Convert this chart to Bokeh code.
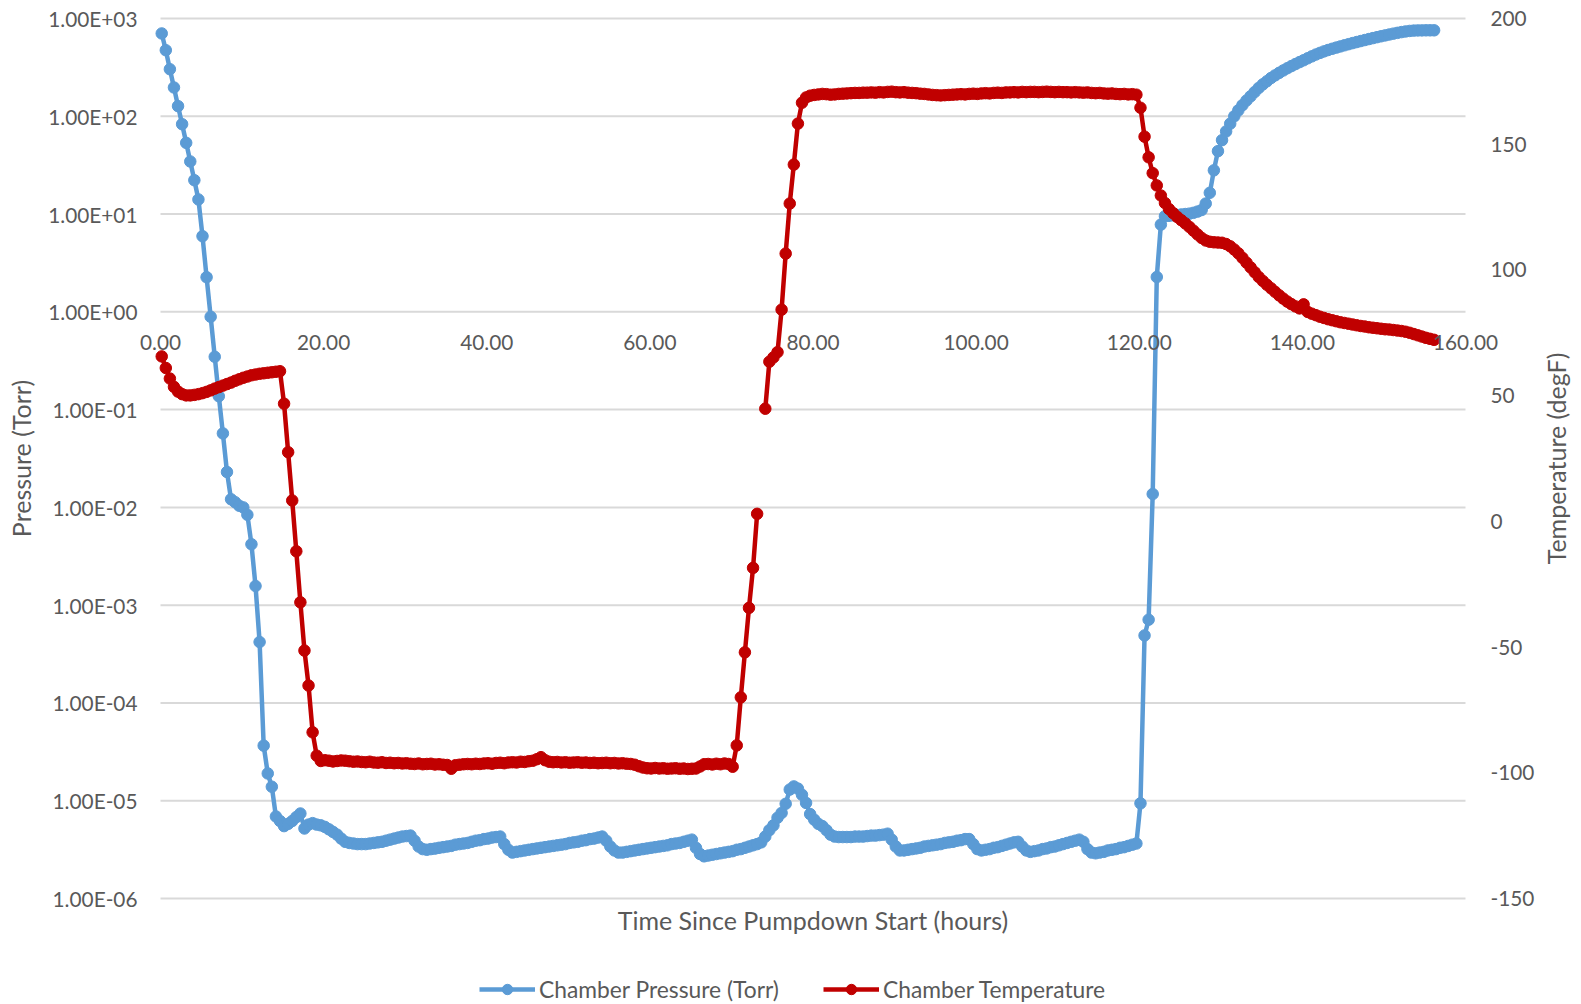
import numpy as np
from bokeh.plotting import figure
from bokeh.models import (ColumnDataSource, Range1d, LinearAxis, LogAxis, LinearScale,
                          FixedTicker, CustomJSTickFormatter, NumeralTickFormatter,
                          Legend, LegendItem, Label)
from bokeh.embed import file_html
from bokeh.resources import INLINE

# Logger clock: one sample every half hour
SAMPLE_START_H = 0.15
SAMPLE_STEP_H = 0.5

PRESSURE_TORR = [
    703, 474, 303, 197, 127, 83, 53.5, 34.5, 22.2, 14.1,
    5.94, 2.26, 0.89, 0.347, 0.137, 0.0571, 0.023, 0.0121, 0.0113, 0.0104,
    0.0100, 0.0084, 0.0042, 0.00157, 0.00042, 3.66e-5, 1.9e-5, 1.39e-5, 6.9e-6, 6.2e-6,
    5.5e-6, 5.8e-6, 6.2e-6, 6.8e-6, 7.4e-6, 5.2e-6, 5.7e-6, 5.9e-6, 5.7e-6, 5.6e-6,
    5.4e-6, 5.1e-6, 4.8e-6, 4.5e-6, 4.1e-6, 3.8e-6, 3.7e-6, 3.65e-6, 3.6e-6, 3.6e-6,
    3.6e-6, 3.65e-6, 3.7e-6, 3.75e-6, 3.8e-6, 3.9e-6, 4.0e-6, 4.1e-6, 4.2e-6, 4.3e-6,
    4.35e-6, 4.4e-6, 3.9e-6, 3.4e-6, 3.2e-6, 3.15e-6, 3.2e-6, 3.24e-6, 3.3e-6, 3.35e-6,
    3.4e-6, 3.45e-6, 3.55e-6, 3.6e-6, 3.65e-6, 3.7e-6, 3.8e-6, 3.9e-6, 3.95e-6, 4.05e-6,
    4.1e-6, 4.2e-6, 4.25e-6, 4.3e-6, 3.6e-6, 3.15e-6, 2.95e-6, 3.0e-6, 3.05e-6, 3.1e-6,
    3.15e-6, 3.2e-6, 3.25e-6, 3.3e-6, 3.35e-6, 3.4e-6, 3.45e-6, 3.5e-6, 3.55e-6, 3.6e-6,
    3.7e-6, 3.75e-6, 3.8e-6, 3.9e-6, 3.95e-6, 4.05e-6, 4.1e-6, 4.2e-6, 4.3e-6, 3.9e-6,
    3.4e-6, 3.1e-6, 2.95e-6, 2.95e-6, 3.0e-6, 3.05e-6, 3.1e-6, 3.15e-6, 3.2e-6, 3.25e-6,
    3.3e-6, 3.35e-6, 3.4e-6, 3.45e-6, 3.5e-6, 3.6e-6, 3.65e-6, 3.7e-6, 3.8e-6, 3.9e-6,
    4.0e-6, 3.3e-6, 2.85e-6, 2.7e-6, 2.75e-6, 2.8e-6, 2.85e-6, 2.9e-6, 2.95e-6, 3.0e-6,
    3.05e-6, 3.15e-6, 3.2e-6, 3.3e-6, 3.4e-6, 3.5e-6, 3.6e-6, 3.75e-6, 4.3e-6, 5.0e-6,
    5.6e-6, 6.7e-6, 7.5e-6, 9.3e-6, 1.3e-5, 1.4e-5, 1.33e-5, 1.15e-5, 9.5e-6, 7.3e-6,
    6.4e-6, 5.8e-6, 5.5e-6, 5.0e-6, 4.5e-6, 4.3e-6, 4.25e-6, 4.25e-6, 4.25e-6, 4.25e-6,
    4.3e-6, 4.3e-6, 4.3e-6, 4.35e-6, 4.4e-6, 4.4e-6, 4.45e-6, 4.5e-6, 4.6e-6, 4.0e-6,
    3.4e-6, 3.1e-6, 3.1e-6, 3.15e-6, 3.2e-6, 3.25e-6, 3.3e-6, 3.4e-6, 3.45e-6, 3.5e-6,
    3.55e-6, 3.6e-6, 3.7e-6, 3.75e-6, 3.8e-6, 3.9e-6, 3.95e-6, 4.05e-6, 4.05e-6, 3.6e-6,
    3.2e-6, 3.1e-6, 3.15e-6, 3.2e-6, 3.3e-6, 3.35e-6, 3.45e-6, 3.55e-6, 3.65e-6, 3.75e-6,
    3.8e-6, 3.4e-6, 3.1e-6, 3.0e-6, 3.05e-6, 3.1e-6, 3.2e-6, 3.25e-6, 3.35e-6, 3.4e-6,
    3.5e-6, 3.6e-6, 3.7e-6, 3.8e-6, 3.9e-6, 4.0e-6, 3.8e-6, 3.2e-6, 2.95e-6, 2.9e-6,
    2.95e-6, 3.0e-6, 3.1e-6, 3.15e-6, 3.2e-6, 3.3e-6, 3.35e-6, 3.45e-6, 3.55e-6, 3.65e-6,
    9.4e-6, 4.9e-4, 7.1e-4, 0.0137, 2.27, 7.8, 9.5, 9.6, 9.7, 9.8,
    9.9, 10.0, 10.1, 10.3, 10.6, 11.0, 12.8, 16.5, 28, 44,
    57, 70, 84, 100, 115, 130, 145, 160, 177, 195,
    212, 228, 246, 262, 278, 294, 310, 326, 342, 358,
    374, 392, 410, 428, 445, 461, 476, 490, 504, 518,
    532, 546, 560, 574, 588, 602, 616, 630, 644, 658,
    672, 686, 700, 713, 726, 737, 746, 752, 755, 756,
    757, 757, 757,
]

# None marks the missing reading during warm-up
TEMPERATURE_F = [
    65.6, 61.0, 56.8, 53.5, 51.6, 50.6, 50.1, 50.1, 50.3, 50.6,
    51.0, 51.5, 52.1, 52.8, 53.4, 54.0, 54.6, 55.2, 55.9, 56.5,
    57.1, 57.6, 58.1, 58.4, 58.7, 58.9, 59.1, 59.3, 59.5, 59.7,
    46.8, 27.5, 8.3, -11.9, -32.2, -51.4, -65.3, -83.9, -93.2, -95.3,
    -95.0, -95.2, -95.5, -95.3, -95.1, -95.2, -95.4, -95.6, -95.5, -95.7,
    -95.8, -95.6, -95.9, -96.0, -95.8, -96.1, -96.0, -96.2, -96.1, -96.3,
    -96.2, -96.4, -96.5, -96.3, -96.6, -96.5, -96.4, -96.7, -96.6, -96.8,
    -96.9, -98.4, -97.0, -96.8, -96.6, -96.5, -96.6, -96.4, -96.5, -96.3,
    -96.2, -96.4, -96.1, -96.0, -96.2, -95.9, -95.8, -95.9, -95.6, -95.7,
    -95.4, -95.2, -94.6, -93.8, -95.0, -95.6, -95.8, -95.7, -95.9, -95.8,
    -96.0, -95.9, -95.8, -96.0, -95.9, -96.1, -96.0, -96.2, -96.1, -96.0,
    -96.2, -96.1, -96.3, -96.2, -96.4, -96.5, -96.8, -97.4, -97.9, -98.2,
    -98.3, -98.1, -98.3, -98.2, -98.4, -98.3, -98.2, -98.4, -98.3, -98.5,
    -98.4, -98.3, -97.5, -96.6, -96.5, -96.7, -96.4, -96.6, -96.3, -96.5,
    -97.6, -89.1, -70.0, -52.1, -34.4, -18.5, 3.0, None, 44.8, 63.5,
    65.2, 67.3, 84.2, 106.5, 126.4, 141.9, 158.2, 166.5, 168.6, 169.3,
    169.6, 169.8, 170.0, 169.9, 169.7, 169.8, 170.0, 170.1, 170.2, 170.3,
    170.4, 170.4, 170.5, 170.5, 170.6, 170.5, 170.7, 170.6, 170.8, 170.9,
    170.7, 170.6, 170.7, 170.5, 170.4, 170.3, 170.1, 170.0, 169.8, 169.6,
    169.5, 169.4, 169.5, 169.6, 169.7, 169.8, 169.9, 169.8, 170.0, 170.1,
    170.0, 170.2, 170.3, 170.2, 170.4, 170.5, 170.4, 170.6, 170.6, 170.7,
    170.6, 170.8, 170.7, 170.8, 170.8, 170.7, 170.8, 170.9, 170.8, 170.7,
    170.8, 170.7, 170.7, 170.6, 170.7, 170.6, 170.5, 170.6, 170.4, 170.3,
    170.4, 170.2, 170.1, 170.2, 170.0, 169.9, 170.0, 169.8, 169.9, 169.7,
    164.5, 153.0, 144.8, 138.5, 133.6, 129.6, 126.6, 124.2, 122.6, 121.1,
    119.8, 118.5, 117.1, 115.6, 114.1, 112.7, 111.7, 111.2, 111.0, 110.9,
    110.8, 110.3, 109.4, 108.1, 106.6, 104.8, 102.9, 101.0, 99.1, 97.2,
    95.6, 94.1, 92.7, 91.3, 89.9, 88.6, 87.4, 86.4, 85.5, 84.7,
    86.3, 83.3, 82.6, 82.0, 81.4, 80.9, 80.4, 80.0, 79.6, 79.2,
    78.9, 78.6, 78.3, 78.0, 77.7, 77.5, 77.2, 77.0, 76.8, 76.6,
    76.4, 76.3, 76.1, 75.9, 75.7, 75.4, 75.0, 74.5, 74.0, 73.5,
    73.0, 72.6, 72.2,
]

X_TICKS = [0, 20, 40, 60, 80, 100, 120, 140, 160]
PRESSURE_TICKS = [1e-6, 1e-5, 1e-4, 1e-3, 1e-2, 1e-1, 1e0, 1e1, 1e2, 1e3]
TEMP_TICKS = [-150, -100, -50, 0, 50, 100, 150, 200]
X_AXIS_CROSSING_TORR = 1.0

SERIES_NAMES = ["Chamber Pressure (Torr)", "Chamber Temperature"]
X_TITLE = "Time Since Pumpdown Start (hours)"
LEFT_TITLE = "Pressure (Torr)"
RIGHT_TITLE = "Temperature (degF)"

BLUE = "#5B9BD5"
RED = "#C00000"
GRID = "#D9D9D9"
INK = "#595959"
FONT = "Lato"
TICK_SIZE = "20.8px"
LEGEND_SIZE = "22.8px"
TITLE_SIZE = "25px"

# Canvas and the pixel box the data area occupies inside it
W, H = 1581, 1004
PLOT_L, PLOT_R, PLOT_T, PLOT_B = 160, 1465, 18, 898


def stretch(lo, hi, lo_px, hi_px, size):
    """Range that puts lo at lo_px and hi at hi_px across a canvas of `size` px."""
    per_px = (hi - lo) / (hi_px - lo_px)
    return lo - lo_px * per_px, hi + (size - hi_px) * per_px


x0, x1 = stretch(X_TICKS[0], X_TICKS[-1], PLOT_L, PLOT_R, W)
ly0, ly1 = stretch(np.log10(PRESSURE_TICKS[-1]), np.log10(PRESSURE_TICKS[0]),
                   PLOT_T, PLOT_B, H)
t0, t1 = stretch(TEMP_TICKS[-1], TEMP_TICKS[0], PLOT_T, PLOT_B, H)

hours = SAMPLE_START_H + SAMPLE_STEP_H * np.arange(len(PRESSURE_TORR))
temps = np.array([np.nan if v is None else v for v in TEMPERATURE_F], dtype=float)
src = ColumnDataSource(dict(t=hours, p=np.array(PRESSURE_TORR, dtype=float), T=temps))

p = figure(width=W, height=H, output_backend="svg", toolbar_location=None,
           x_range=Range1d(x0, x1), y_range=Range1d(10 ** ly1, 10 ** ly0),
           y_axis_type="log", x_axis_location=None, y_axis_location=None,
           min_border=0, outline_line_color=None,
           background_fill_color="white", border_fill_color="white")
p.extra_y_ranges = {"temp": Range1d(t1, t0)}
p.extra_y_scales = {"temp": LinearScale()}
p.xgrid.visible = False
p.ygrid.visible = False

# horizontal grid, one line per decade of pressure, spanning the time axis
p.segment(x0=[X_TICKS[0]] * len(PRESSURE_TICKS), x1=[X_TICKS[-1]] * len(PRESSURE_TICKS),
          y0=PRESSURE_TICKS, y1=PRESSURE_TICKS, line_color=GRID, line_width=2)


def style_axis(ax, standoff):
    ax.axis_line_color = None
    ax.major_tick_line_color = None
    ax.minor_tick_line_color = None
    ax.major_label_text_font = FONT
    ax.major_label_text_font_size = TICK_SIZE
    ax.major_label_text_color = INK
    ax.major_label_standoff = standoff


# pressure axis, scientific labels like 1.00E-06
ya = LogAxis(fixed_location=X_TICKS[0], ticker=FixedTicker(ticks=PRESSURE_TICKS))
ya.formatter = CustomJSTickFormatter(code="""
    const e = Math.round(Math.log10(tick));
    const a = Math.abs(e);
    return "1.00E" + (e < 0 ? "-" : "+") + (a < 10 ? "0" : "") + a;
""")
style_axis(ya, 17)
p.add_layout(ya, "left")

# time axis crosses the pressure axis at 1 Torr
xa = LinearAxis(fixed_location=X_AXIS_CROSSING_TORR, ticker=FixedTicker(ticks=X_TICKS),
                formatter=NumeralTickFormatter(format="0.00"))
style_axis(xa, 17)
p.add_layout(xa, "below")

ra = LinearAxis(y_range_name="temp", fixed_location=X_TICKS[-1],
                ticker=FixedTicker(ticks=TEMP_TICKS),
                formatter=CustomJSTickFormatter(code="return tick.toFixed(0);"))
style_axis(ra, 19)
p.add_layout(ra, "right")

pl = p.line("t", "p", source=src, line_color=BLUE, line_width=4.5, line_join="round")
ps = p.scatter("t", "p", source=src, size=11.5, fill_color=BLUE, line_color=BLUE,
               line_width=1)
tl = p.line("t", "T", source=src, y_range_name="temp", line_color=RED,
            line_width=4.5, line_join="round")
ts = p.scatter("t", "T", source=src, y_range_name="temp", size=11.5,
               fill_color=RED, line_color=RED, line_width=1)


def title(text, **kw):
    p.add_layout(Label(text=text, text_font=FONT, text_font_size=TITLE_SIZE,
                       text_color=INK, text_align="center",
                       text_baseline="middle", **kw))


mid_decade = 10 ** ((np.log10(PRESSURE_TICKS[0]) + np.log10(PRESSURE_TICKS[-1])) / 2)
title(X_TITLE, x=(X_TICKS[0] + X_TICKS[-1]) / 2, y=PRESSURE_TICKS[0], y_offset=-21)
title(LEFT_TITLE, x=X_TICKS[0], y=mid_decade, x_offset=-140, angle=np.pi / 2)
title(RIGHT_TITLE, x=X_TICKS[-1], y=mid_decade, x_offset=90, angle=np.pi / 2)

# one legend box per series so each entry sits at its own spot
for name, rends, left in [(SERIES_NAMES[0], [pl, ps], 479),
                          (SERIES_NAMES[1], [tl, ts], 823)]:
    p.add_layout(Legend(items=[LegendItem(label=name, renderers=rends)],
                        location=(left, 1), orientation="horizontal",
                        glyph_width=56, glyph_height=26, label_standoff=4,
                        padding=0, margin=0, border_line_color=None,
                        background_fill_alpha=0, label_text_font=FONT,
                        label_text_font_size=LEGEND_SIZE, label_text_color=INK))

open("out.html", "w").write(file_html(p, INLINE))
